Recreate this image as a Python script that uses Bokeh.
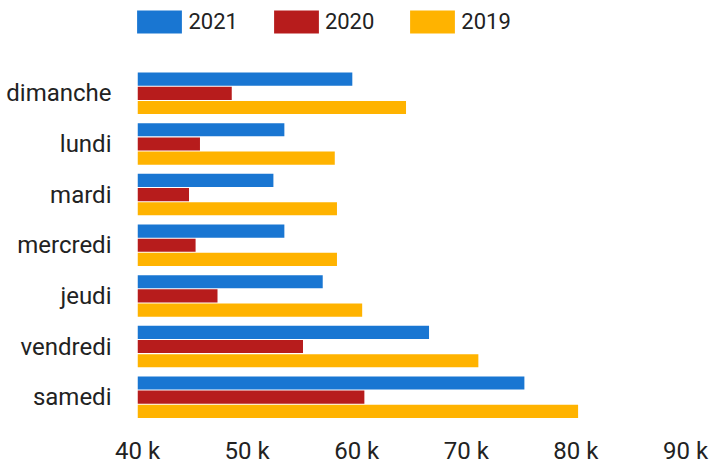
from bokeh.plotting import figure
from bokeh.models import ColumnDataSource, Range1d, FixedTicker, Legend, LegendItem
from bokeh.transform import dodge
from bokeh.embed import file_html
from bokeh.resources import INLINE

days = ["dimanche", "lundi", "mardi", "mercredi", "jeudi", "vendredi", "samedi"]
v2021 = [59600, 53400, 52400, 53400, 56900, 66600, 75300]
v2020 = [48600, 45700, 44700, 45300, 47300, 55100, 60700]
v2019 = [64500, 58000, 58200, 58200, 60500, 71100, 80200]
tick_values = [40000, 50000, 60000, 70000, 80000, 90000]
tick_labels = ["40 k", "50 k", "60 k", "70 k", "80 k", "90 k"]

# category slots, first day at the top
pos = [len(days) - 1 - i for i in range(len(days))]

source = ColumnDataSource(data=dict(pos=pos, day=days, y2021=v2021, y2020=v2020, y2019=v2019))

FONT = "Roboto"
TXT = "#222222"

p = figure(width=711, height=467,
           y_range=Range1d(-0.5, 7.833),
           x_range=Range1d(tick_values[0], tick_values[-1]),
           output_backend="svg", toolbar_location=None,
           min_border_left=137, min_border_right=26, min_border_top=0, min_border_bottom=42)

r1 = p.hbar(y=dodge("pos", 0.28), left=tick_values[0], right="y2021",
            height=0.26, source=source, color="#1976D2", line_color=None)
r2 = p.hbar(y=dodge("pos", 0.0), left=tick_values[0], right="y2020",
            height=0.26, source=source, color="#B71C1C", line_color=None)
r3 = p.hbar(y=dodge("pos", -0.28), left=tick_values[0], right="y2019",
            height=0.26, source=source, color="#FFB300", line_color=None)

p.xgrid.visible = False
p.ygrid.visible = False
p.outline_line_color = None

p.xaxis.ticker = FixedTicker(ticks=tick_values)
p.xaxis.major_label_overrides = {v: l for v, l in zip(tick_values, tick_labels)}
p.yaxis.ticker = FixedTicker(ticks=pos)
p.yaxis.major_label_overrides = {k: d for k, d in zip(pos, days)}
for ax in (p.xaxis, p.yaxis):
    ax.axis_line_color = None
    ax.major_tick_line_color = None
    ax.minor_tick_line_color = None
    ax.major_tick_out = 0
    ax.major_tick_in = 0
    ax.major_label_text_font = FONT
    ax.major_label_text_font_size = "24px"
    ax.major_label_text_color = TXT
p.xaxis.major_label_standoff = 14
p.yaxis.major_label_standoff = 26

legend = Legend(items=[LegendItem(label="2021", renderers=[r1]),
                       LegendItem(label="2020", renderers=[r2]),
                       LegendItem(label="2019", renderers=[r3])],
                orientation="horizontal", location=(-5.6, 386.0),
                glyph_width=56, glyph_height=29, label_standoff=1, spacing=30,
                padding=0, margin=0, border_line_color=None, background_fill_alpha=0,
                label_text_font=FONT, label_text_font_size="22px", label_text_color=TXT)
p.add_layout(legend, "center")

open("out.html", "w").write(file_html(p, INLINE))
